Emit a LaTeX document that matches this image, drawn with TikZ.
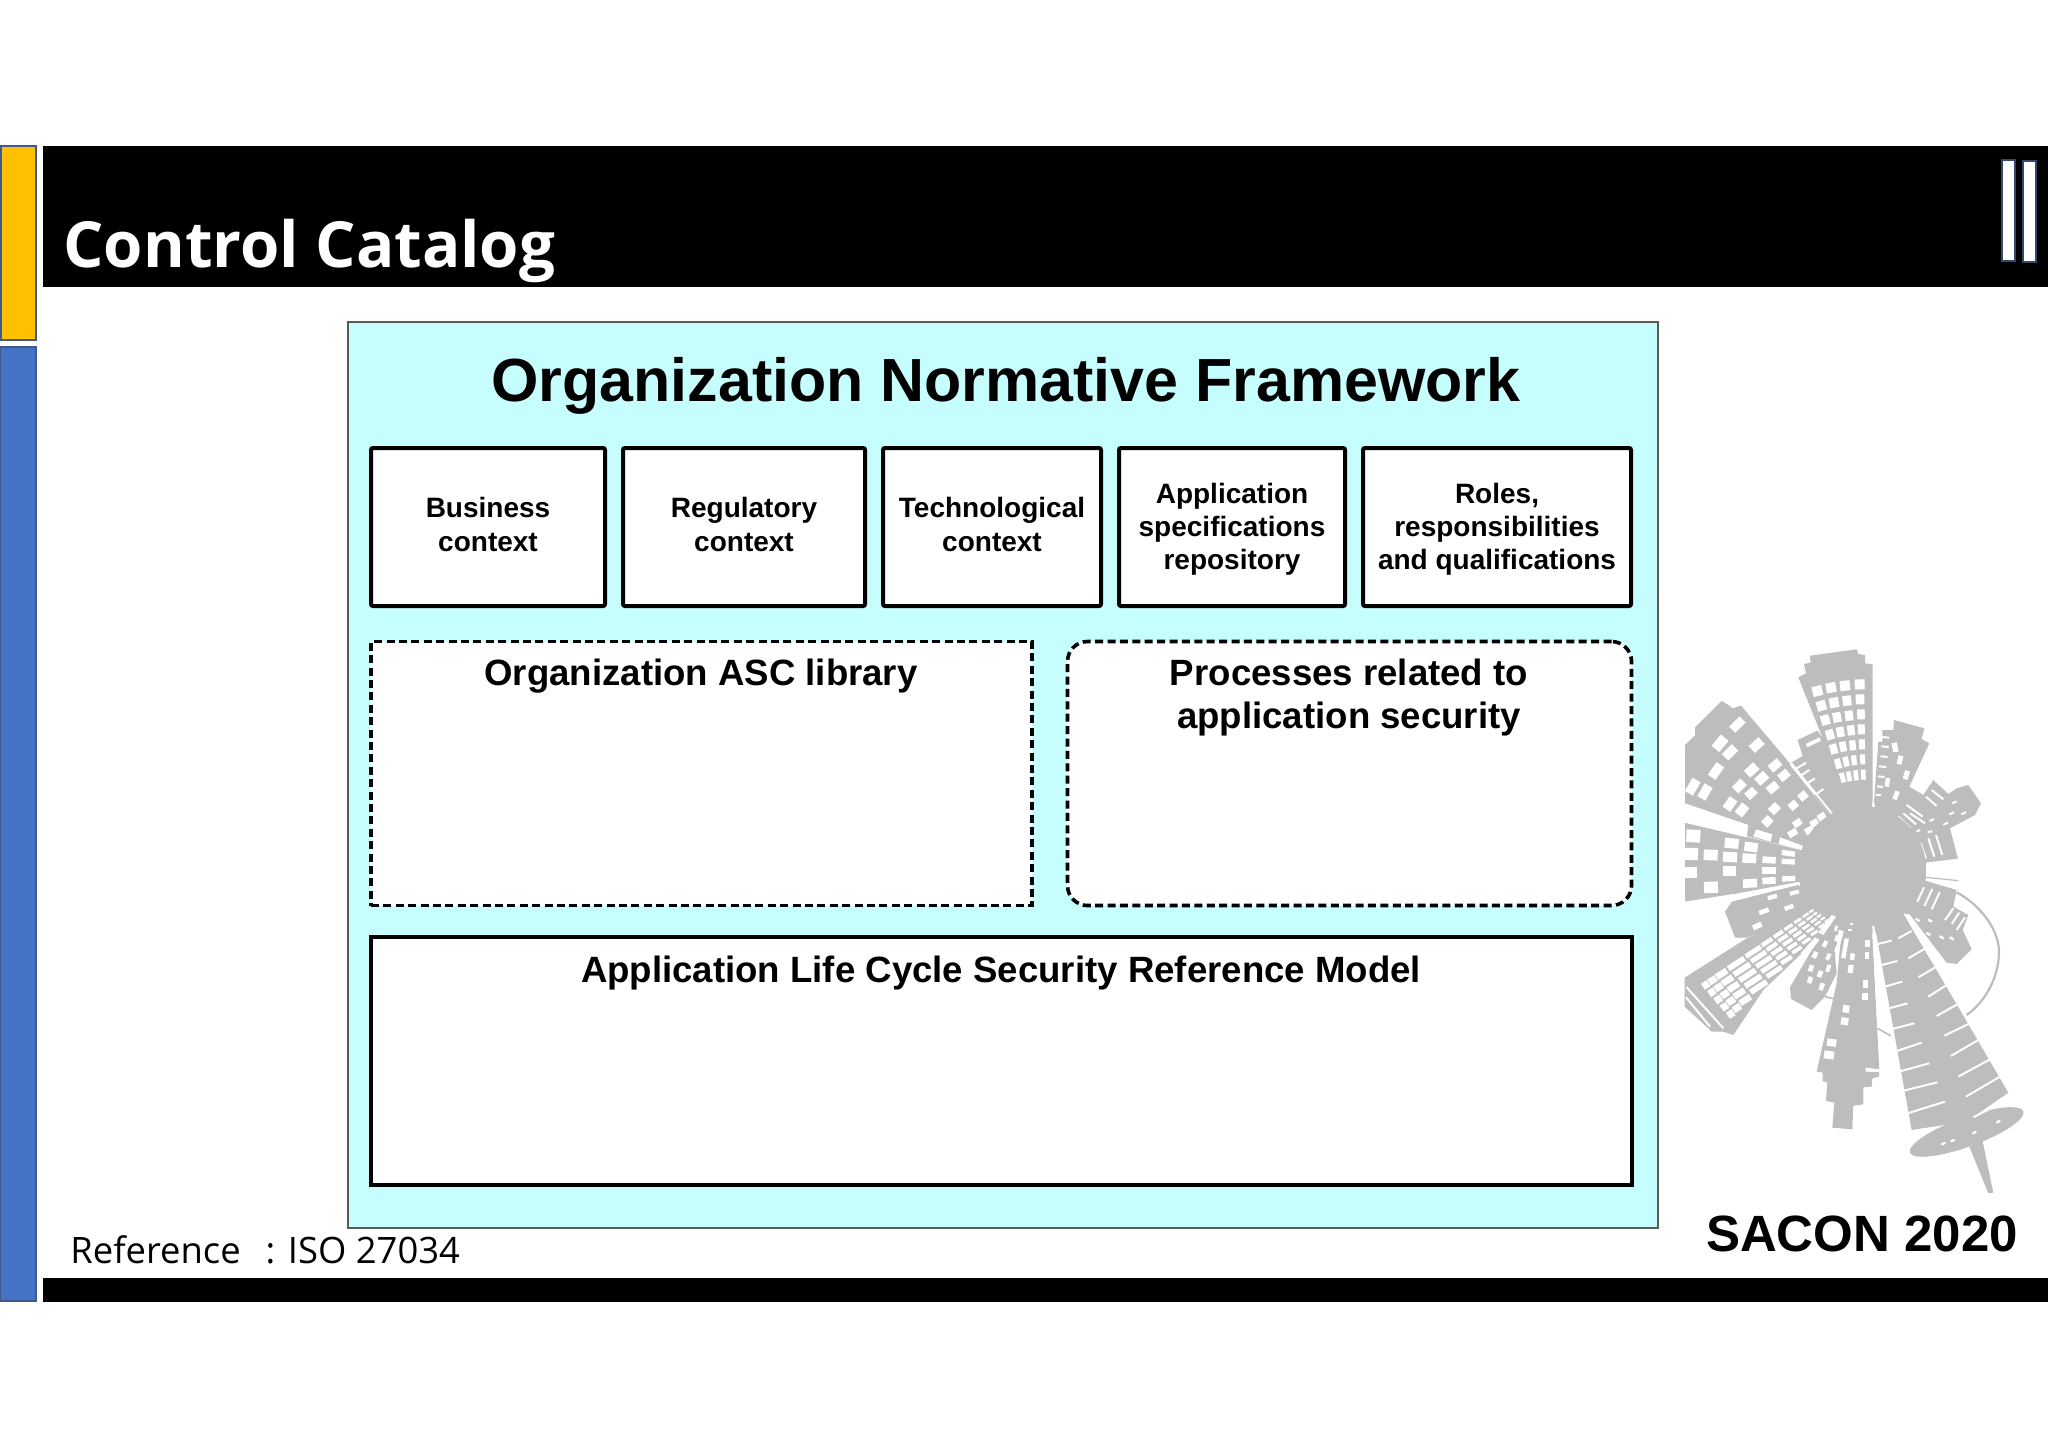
\documentclass[tikz,border=0pt]{standalone}
\usepackage{fontspec}
\setmainfont{Liberation Sans}
\newfontfamily\slidefont{Open Sans}
\definecolor{panelcyan}{HTML}{C6FEFE}
\definecolor{barblue}{HTML}{4472C4}
\definecolor{baryellow}{HTML}{FFC000}
\definecolor{edgeblue}{HTML}{41598A}
\definecolor{logogray}{HTML}{BCBDBF}
\newcommand{\lgwin}[5]{\fill[white,shift={(#1,#2)},rotate=#5] (-#3/2,-#4/2) rectangle (#3/2,#4/2);}
\newcommand{\lgslit}[4]{\draw[white,line width=1pt] (#1,#2) -- (#3,#4);}
\newcommand{\twoline}{\rule[-2.6pt]{0pt}{0pt}}
\newcommand{\threeline}{\rule{0pt}{12.4pt}}
\tikzset{
  px/.style={x=0.5pt,y=-0.5pt},
  ctxbox/.style={draw=black,fill=white,line width=2pt,inner sep=0pt,align=center,font=\fontsize{14}{16.7}\selectfont\bfseries,rounded corners=1pt},
  dashbox/.style={draw=black,fill=white,line width=1.8pt,dash pattern=on 4pt off 2.2pt,inner sep=0pt},
  headtext/.style={inner sep=0pt,align=center,font=\fontsize{18.3}{21.3}\selectfont\bfseries},
  accent/.style={draw=edgeblue!80!black,line width=0.6pt},
  sidebar/.style={draw=edgeblue,line width=0.6pt,inner sep=0pt}
}
\begin{document}
\begin{tikzpicture}[px]
\fill[white] (0,0) rectangle (2048,1447);
\useasboundingbox (0,0) rectangle (2048,1447);
% slide frame
\fill[baryellow,sidebar] (1,146) rectangle (36,340);
\fill[barblue,sidebar] (0,347) rectangle (36,1301);
\fill[black] (43,146) rectangle (2048,287);
\fill[black] (43,1278) rectangle (2048,1302);
\fill[white,accent] (2002,160) rectangle (2015,261);
\fill[white,accent] (2023,161) rectangle (2036,262);
\node[anchor=base west,inner sep=0pt,text=white,font=\slidefont\fontsize{31.8}{38}\selectfont\bfseries] (title) at (63,267) {Control Catalog};
% panel
\node[draw=black!65,fill=panelcyan,line width=1pt,minimum width=655pt,minimum height=453pt,inner sep=0pt] (panel) at (1002.5,775) {};
\node[anchor=base,inner sep=0pt,font=\fontsize{30.45}{36}\selectfont\bfseries] (heading) at (1006,401) {Organization Normative Framework};
\node[ctxbox,minimum width=117pt,minimum height=79pt] (business) at (488,527) {Business\\context\twoline};
\node[ctxbox,minimum width=121pt,minimum height=79pt] (regulatory) at (744,527) {Regulatory\\context\twoline};
\node[ctxbox,minimum width=109pt,minimum height=79pt] (technological) at (992,527) {Technological\\context\twoline};
\node[ctxbox,minimum width=113pt,minimum height=79pt] (application) at (1232,527) {\threeline Application\\specifications\\repository};
\node[ctxbox,minimum width=134pt,minimum height=79pt] (roles) at (1497,527) {\threeline Roles,\\responsibilities\\and qualifications};
\node[dashbox,minimum width=330.5pt,minimum height=132pt] (asc) at (701.5,773.5) {};
\node[dashbox,rounded corners=10pt,minimum width=282pt,minimum height=132pt] (processes) at (1349.5,773.5) {};
\node[draw=black,fill=white,line width=2pt,inner sep=0pt,minimum width=630.5pt,minimum height=124pt] (model) at (1001,1061) {};
\node[headtext,anchor=base] (asclabel) at (701,685) {Organization ASC library};
\node[headtext,anchor=base] (proclabel) at (1349,728) {Processes related to\\application security};
\node[anchor=base,inner sep=0pt,font=\fontsize{18.3}{21}\selectfont\bfseries] (modellabel) at (1001,982) {Application Life Cycle Security Reference Model};
\node[anchor=base west,inner sep=0pt,font=\slidefont\fontsize{18.2}{22}\selectfont] (ref) at (70,1263) {Reference\ \ \,: ISO 27034};
\node[anchor=base,inner sep=0pt,font=\fontsize{25.5}{30}\selectfont\bfseries] (sacon) at (1862,1251) {SACON 2020};
% logo, in the 3x scale of a detail crop
\begin{scope}[shift={(1680,640)},scale=0.3333]
% top tower
\fill[logogray] (355,112) -- (378,100) -- (372,72) -- (392,68) -- (390,47) -- (530,28) -- (535,42) -- (555,45) -- (555,70) -- (578,73) -- (578,480) -- (560,600) -- (470,545) -- (430,300) -- cycle;
\foreach \xx/\yy/\ww/\aa in {412/153/30/14,453/143/30/10,495/137/30/6,539/133/30/2,
 424/197/28/16,462/188/28/10,501/182/26/6,540/178/26/2,
 436/240/26/16,471/232/25/11,507/227/24/6,543/223/23/2,
 450/284/24/16,481/276/23/11,513/271/22/6,544/268/21/2,
 461/327/22/16,489/320/20/11,518/316/19/6,546/313/18/2,
 474/371/18/16,498/365/17/11,522/361/16/6,548/358/15/2,
 488/413/15/16,507/409/14/11,528/406/14/6,550/404/14/2}{
  \lgwin{\xx}{\yy}{\ww}{30}{\aa}
}
% small tower beside the top tower
\fill[logogray] (333,368) -- (368,348) -- (353,300) -- (412,272) -- (440,310) -- (480,510) -- (470,545) -- cycle;
\lgwin{400}{307}{45}{11}{25}
\foreach \xa/\ya/\xb/\yb in {350/385/378/368,365/405/388/390,385/428/405/415,405/465/430/447}{\lgslit{\xa}{\ya}{\xb}{\yb}}
% upper-left tower
\fill[logogray] (15,320) -- (15,315) -- (45,285) -- (45,262) -- (125,183) -- (145,195) -- (158,205) -- (183,197) -- (410,465) -- (470,545) -- (400,640) -- (205,590) -- (15,490) -- cycle;
\foreach \xx/\yy/\ww/\hh/\aa in {172/254/44/26/45,120/310/44/30/50,150/337/42/28/45,230/315/40/28/42,285/376/36/26/40,312/406/32/26/40,215/390/38/28/42,245/415/36/28/42,278/443/34/26/40,178/438/36/28/45,213/460/32/26/42,108/393/46/28/55,38/440/46/28/60,75/456/44/28/60,150/492/38/28/55,186/510/36/28/52,283/506/30/26/45,340/496/26/24/40,369/468/26/24/40,262/544/28/26/45,352/549/26/20/35,403/549/24/20/30,425/530/24/20/30,388/571/26/20/30,338/579/28/20/30}{
  \lgwin{\xx}{\yy}{\ww}{\hh}{\aa}
}
\fill[white] (228,568) -- (277,583) -- (272,605) -- (220,590) -- cycle;
\fill[white] (300,592) -- (402,630) -- (400,640) -- (296,612) -- cycle;
\fill[white] (330,375) -- (336,368) -- (475,540) -- (468,546) -- cycle;
\draw[logogray,line width=0.5pt] (405,465) -- (470,545);
% left tower
\fill[logogray] (15,548) -- (205,592) -- (400,640) -- (360,725) -- (15,790) -- cycle;
\foreach \xx/\yy/\ww/\hh/\aa in {40/588/42/38/-3,34/642/40/36/-2,32/698/40/34/0,92/645/42/32/-2,150/651/42/30/-3,155/610/42/30/-6,213/621/40/28/-8,208/655/42/28/-3,148/693/40/28/0,93/742/42/34/2,210/730/42/26/3,267/660/40/20/-3,325/640/40/16/-8,325/665/40/16/-3,267/692/40/20/0,267/722/40/20/3,326/716/40/16/3}{
  \lgwin{\xx}{\yy}{\ww}{\hh}{\aa}
}
% tower below the left tower
\fill[logogray] (135,815) -- (158,782) -- (352,735) -- (480,790) -- (200,893) -- (165,893) -- cycle;
\foreach \xx/\yy/\ww/\hh/\aa in {277/771/28/13/15,343/758/28/12/15,327/802/28/13/20,252/814/30/14/20,232/858/28/16/25}{
  \lgwin{\xx}{\yy}{\ww}{\hh}{\aa}
}
% upper-right towers
\fill[logogray] (582,485) -- (595,305) -- (607,305) -- (607,270) -- (640,270) -- (642,240) -- (733,265) -- (725,297) -- (748,310) -- (688,440) -- (730,465) -- (760,420) -- (805,462) -- (830,445) -- (865,435) -- (903,490) -- (885,525) -- (810,565) -- (835,660) -- (738,670) -- (700,590) -- (600,560) -- cycle;
\foreach \xx/\yy/\ww/\hh/\aa in {645/322/16/28/10,660/360/15/26/-12,679/405/15/26/-18,648/466/14/26/-20,622/427/13/26/-8,617/292/22/6/-5,615/320/22/6/-5,612/350/22/6/-5,608/380/22/6/-5,604/410/20/6/-5,600/440/18/6/-5,595/465/16/6/-5,575/511/14/7/0,823/487/14/6/25,815/520/16/6/25,851/520/16/6/25,797/551/16/6/25,755/540/14/6/25,715/572/12/6/25,750/575/14/6/10}{
  \lgwin{\xx}{\yy}{\ww}{\hh}{\aa}
}
\foreach \xa/\ya/\xb/\yb in {680/495/728/530,690/520/735/550,655/530/692/565,670/520/708/553,722/610/738/655,745/595/763/650,768/585/787/645,755/450/790/478,738/470/770/498}{\lgslit{\xa}{\ya}{\xb}{\yb}}
% lower-right tower and ring
\fill[logogray] (735,722) -- (830,750) -- (820,800) -- (865,825) -- (848,870) -- (875,928) -- (830,972) -- (800,968) -- (690,825) -- (640,780) -- cycle;
\draw[logogray,line width=1.1pt] (830,757) .. controls (910,800) and (960,880) .. (957,940) .. controls (955,1020) and (910,1090) .. (860,1125);
\draw[logogray,line width=0.8pt] (592,1165) -- (632,1187);
\draw[logogray,line width=0.8pt] (435,1070) -- (465,1077);
% lower-left grid tower
\fill[logogray] (14,1013) -- (200,895) -- (400,805) -- (470,830) -- (420,890) -- (360,945) -- (250,1050) -- (160,1185) -- (130,1175) -- (95,1175) -- (14,1100) -- cycle;
% lower towers
\fill[logogray] (330,1042) -- (430,870) -- (480,840) -- (465,950) -- (470,1000) -- (435,1070) -- (395,1110) -- (333,1077) -- cycle;
\fill[logogray] (575,850) -- (597,1270) -- (597,1310) -- (577,1315) -- (575,1340) -- (550,1342) -- (550,1393) -- (520,1397) -- (517,1468) -- (457,1463) -- (463,1388) -- (438,1383) -- (442,1328) -- (428,1323) -- (428,1298) -- (410,1295) -- (470,1030) -- (480,920) -- (500,840) -- cycle;
% spire tower: body, wing and tail
\fill[logogray] (585,860) -- (670,820) -- (985,1358) -- (878,1432) -- (825,1450) -- (695,1470) -- cycle;
\fill[logogray,shift={(860,1476)},rotate=20] (0,0) ellipse (181 and 44);
\fill[logogray] (862,1505) -- (905,1490) -- (940,1658) -- (925,1660) -- cycle;
% central disc
\fill[logogray] (547,690) circle (192);
% gaps that reach the disc
\fill[white] (738,668) -- (840,655) -- (840,722) -- (738,708) -- cycle;
\draw[logogray,line width=0.6pt] (738,712) -- (835,722);
\fill[white] (15,490) -- (205,555) -- (200,592) -- (15,548) -- cycle;
\fill[white] (135,782) -- (352,728) -- (352,735) -- (135,790) -- cycle;
\fill[white] (15,785) -- (160,762) -- (158,782) -- (15,792) -- cycle;
\fill[white] (577,858) -- (583,858) -- (598,980) -- (612,1160) -- (592,1165) -- cycle;
\fill[white] (670,820) -- (690,825) -- (790,960) -- (757,968) -- cycle;
\fill[white] (415,877) -- (455,825) -- (468,830) -- (430,885) -- cycle;
\fill[white] (362,940) -- (405,892) -- (418,900) -- (375,955) -- cycle;
% grid tower windows
\foreach \tt/\dd in {0.03/0.05,0.09/0.06,0.17/0.09,0.30/0.14,0.45/0.13,0.57/0.09,0.67/0.08,0.76/0.07,0.84/0.06,0.91/0.05,0.96/0.035}{
  \foreach \ff in {0.12,0.31,0.50,0.69,0.88}{
    \pgfmathsetmacro{\ax}{55+345*\tt}
    \pgfmathsetmacro{\ay}{1028-228*\tt}
    \pgfmathsetmacro{\bx}{155+305*\tt}
    \pgfmathsetmacro{\by}{1145-310*\tt}
    \pgfmathsetmacro{\cx}{\ax+(\bx-\ax)*\ff}
    \pgfmathsetmacro{\cy}{\ay+(\by-\ay)*\ff}
    \pgfmathsetmacro{\cw}{\dd*410}
    \pgfmathsetmacro{\ch}{22*(1-0.72*\tt)}
    \lgwin{\cx}{\cy}{\cw}{\ch}{33}
  }
}
\lgslit{20}{1042}{130}{1165}
\lgslit{18}{1072}{90}{1160}
% narrow tower windows
\foreach \xx/\yy/\ww/\hh/\aa in {393/985/14/20/-20,420/1002/14/20/-20,390/1020/14/20/-20,425/1040/14/22/-20,445/985/12/22/-20,405/945/14/20/-25,445/950/12/20/-25,435/912/12/20/-25,470/895/10/18/-15,470/928/10/20/-15,468/865/8/16/-15}{
  \lgwin{\xx}{\yy}{\ww}{\hh}{\aa}
}
\foreach \xx/\yy/\ww/\hh/\aa in {562/910/14/20/0,561/947/14/22/0,557/1032/16/22/0,556/1069/18/22/0,498/1107/20/22/-8,494/1144/22/22/-8,455/1208/28/22/-8,447/1245/30/24/-8,512/987/16/24/-8,517/950/14/20/-8,495/925/13/60/-10,510/870/14/6/0,514/853/10/5/0}{
  \lgwin{\xx}{\yy}{\ww}{\hh}{\aa}
}
\fill[white] (557,1283) -- (597,1288) -- (597,1296) -- (557,1295) -- cycle;
% spire tower slits
\foreach \xa/\ya/\xb/\yb in {590/913/635/902,598/977/652/963,607/1042/667/1025,620/1107/683/1090,632/1168/703/1150,645/1235/725/1208,657/1295/748/1270,672/1352/772/1327,683/1420/795/1385,
655/895/695/873,685/955/733/927,715/1012/770/980,745/1070/800/1035,770/1128/832/1093,793/1187/870/1150,813/1248/895/1200,835/1310/930/1258,858/1370/960/1310,880/1432/985/1378}{
  \lgslit{\xa}{\ya}{\xb}{\yb}
}
\foreach \xx/\yy/\aa in {790/1511/25,818/1502/25,883/1478/30,955/1445/30}{
  \fill[white,shift={(\xx,\yy)},rotate=\aa] (0,0) ellipse (8 and 4);
}
% lower-right tower details
\foreach \xa/\ya/\xb/\yb in {712/785/732/742,733/798/757/747,755/808/779/757,795/840/820/805,815/852/838/818,830/870/855/832}{\lgslit{\xa}{\ya}{\xb}{\yb}}
\foreach \xx/\yy/\aa in {713/840/-30,750/842/-30,745/882/-30,785/892/-30,815/895/-30}{
  \lgwin{\xx}{\yy}{14}{7}{\aa}
}
\end{scope}
\end{tikzpicture}
\end{document}
